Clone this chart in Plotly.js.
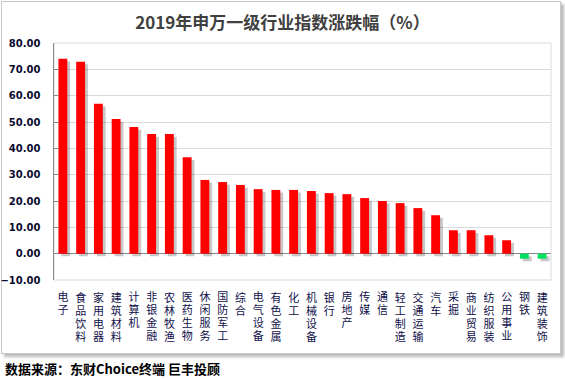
<!DOCTYPE html>
<html>
<head>
<meta charset="utf-8">
<script src="https://cdn.plot.ly/plotly-3.0.1.min.js"></script>
<style>
html,body{margin:0;padding:0;background:#fff;}
#frame{position:absolute;left:1px;top:1px;width:558px;height:351px;border:1px solid #c8c8c8;box-shadow:3px 3px 3px rgba(0,0,0,0.28);background:#fff;}
#chart{position:absolute;left:0;top:0;width:565px;height:379px;}
</style>
</head>
<body>
<div id="frame"></div>
<div id="chart"></div>
<script>
const categories = ["电子","食品饮料","家用电器","建筑材料","计算机","非银金融","农林牧渔","医药生物","休闲服务","国防军工","综合","电气设备","有色金属","化工","机械设备","银行","房地产","传媒","通信","轻工制造","交通运输","汽车","采掘","商业贸易","纺织服装","公用事业","钢铁","建筑装饰"];
const changes = [74.0,72.9,56.9,51.1,48.1,45.4,45.4,36.6,28.0,27.2,26.1,24.5,24.2,24.2,23.8,23.0,22.6,21.1,20.0,19.2,17.3,14.6,8.9,8.9,7.0,5.1,-1.9,-1.9];
const yTicks = [-10,0,10,20,30,40,50,60,70,80];

const colors = changes.map(v => v >= 0 ? '#FF0000' : '#00E060');

const shadow = {
  type:'bar', x:categories, y:changes, base:-1.0,
  width:0.5, offset:-0.25+0.16,
  marker:{color:'rgba(0,0,0,0.22)', line:{width:0}},
  hoverinfo:'skip', showlegend:false
};
const bars = {
  type:'bar', x:categories, y:changes,
  width:0.5, offset:-0.25,
  marker:{color:colors, line:{width:0}},
  showlegend:false
};

const layout = {
  width:565, height:379,
  margin:{l:54, r:14, t:43, b:99},
  paper_bgcolor:'rgba(0,0,0,0)', plot_bgcolor:'#fff',
  barmode:'overlay',
  title:{text:'2019年申万一级行业指数涨跌幅（%）', x:0.5, xanchor:'center', y:0.94, yanchor:'middle',
    font:{family:'"Noto Sans CJK SC", sans-serif', size:17, color:'#404040', weight:700}},
  xaxis:{
    type:'category', tickmode:'array', tickvals:categories, ticktext:categories,
    tickangle:0, showgrid:false, zeroline:false, showline:false,
    ticks:'', ticklabelstandoff:6,
    tickfont:{family:'"Noto Sans CJK SC", sans-serif', size:11, color:'#10104a'}
  },
  yaxis:{
    range:[-10,80], tickmode:'array', tickvals:yTicks, tickformat:'.2f',
    showgrid:true, gridcolor:'#d9d9d9', gridwidth:1,
    zeroline:true, zerolinecolor:'#888888', zerolinewidth:1.5,
    showline:true, linecolor:'#888888', linewidth:1.5,
    ticks:'inside', ticklen:4, tickcolor:'#888888', ticklabelstandoff:10,
    tickfont:{family:'"DejaVu Sans", Verdana, sans-serif', size:10, color:'#0a0a30', weight:700}
  },
  shapes:[{type:'rect', xref:'paper', yref:'paper', x0:0, x1:1, y0:0, y1:1,
    line:{color:'#d9d9d9', width:1}, layer:'below'}],
  annotations:[{
    text:'数据来源：东财Choice终端 巨丰投顾', xref:'paper', yref:'paper',
    x:-51/497, y:-(368-280)/237, xanchor:'left', yanchor:'middle', showarrow:false,
    font:{family:'"Noto Sans CJK SC", sans-serif', size:13, color:'#000', weight:700}
  }]
};

Plotly.newPlot('chart', [shadow, bars], layout, {displayModeBar:false, staticPlot:true}).then(gd => {
  const targetTop = 291;
  const chartRect = gd.getBoundingClientRect();
  gd.querySelectorAll('.xtick text').forEach(t => {
    const before = t.getBoundingClientRect();
    const cx = before.left + before.width / 2;
    const label = t.textContent;
    while (t.firstChild) t.removeChild(t.firstChild);
    t.textContent = label;
    t.setAttribute('text-anchor', 'start');
    t.style.writingMode = 'vertical-rl';
    t.style.textOrientation = 'upright';
    t.style.letterSpacing = '2px';
    const after = t.getBoundingClientRect();
    const dy = (targetTop + chartRect.top) - after.top;
    const dx = cx - (after.left + after.width / 2);
    t.setAttribute('y', String(parseFloat(t.getAttribute('y') || 0) + dy));
    t.setAttribute('x', String(parseFloat(t.getAttribute('x') || 0) + dx));
  });
});
</script>
</body>
</html>
